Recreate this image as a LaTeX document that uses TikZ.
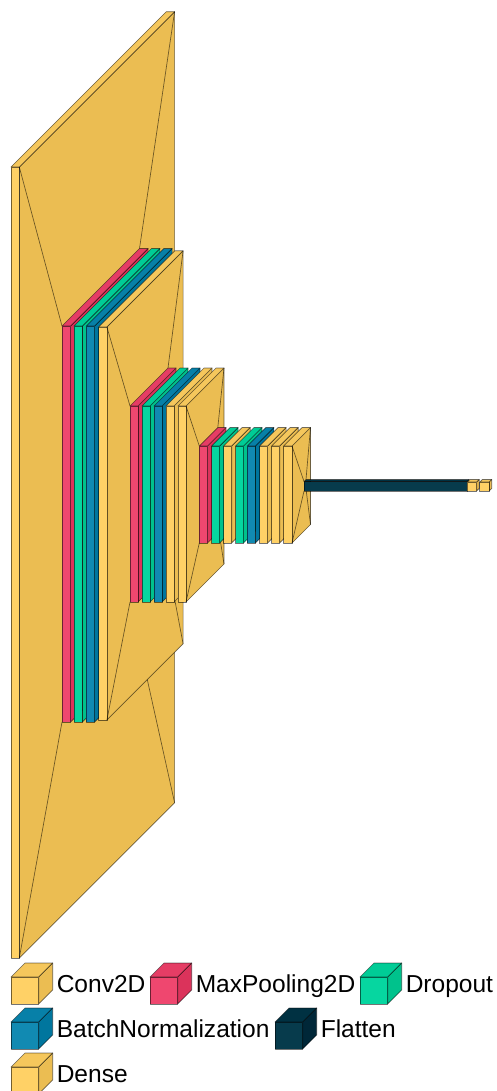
\documentclass[tikz,border=0pt]{standalone}
\usepackage{fontspec}
\setmainfont{Liberation Sans}
\definecolor{convF}{HTML}{FFD166}\definecolor{convT}{HTML}{F5C75C}\definecolor{convS}{HTML}{EBBD52}
\definecolor{poolF}{HTML}{EF476F}\definecolor{poolT}{HTML}{E53D65}\definecolor{poolS}{HTML}{DB335B}
\definecolor{dropF}{HTML}{06D6A0}\definecolor{dropT}{HTML}{00CC96}\definecolor{dropS}{HTML}{00C28C}
\definecolor{normF}{HTML}{118AB2}\definecolor{normT}{HTML}{0780A8}\definecolor{normS}{HTML}{00769E}
\definecolor{flatF}{HTML}{073B4C}\definecolor{flatT}{HTML}{003142}\definecolor{flatS}{HTML}{002738}
\tikzset{
  edge/.style={draw=black,draw opacity=.55,line width=.5pt,line join=round},
  funnel/.style={edge},
  legendtext/.style={anchor=base west,inner sep=0pt,font=\fontsize{18.4pt}{22pt}\selectfont,text=black}
}
% name, x, y-top, width, height, depth
\newcommand{\placecube}[6]{%
  \coordinate (#1-ftl) at (#2,#3);
  \coordinate (#1-ftr) at ({#2+#4},#3);
  \coordinate (#1-fbl) at (#2,{#3+#5});
  \coordinate (#1-fbr) at ({#2+#4},{#3+#5});
  \coordinate (#1-btl) at ({#2+#6},{#3-#6});
  \coordinate (#1-btr) at ({#2+#4+#6},{#3-#6});
  \coordinate (#1-bbr) at ({#2+#4+#6},{#3+#5-#6});
  \coordinate (#1-bbl) at ({#2+#6},{#3+#5-#6});
}
% name, colour stem
\newcommand{\drawcube}[2]{%
  \path[edge,fill=#2S] (#1-ftr) -- (#1-btr) -- (#1-bbr) -- (#1-fbr) -- cycle;
  \path[edge,fill=#2T] (#1-ftl) -- (#1-btl) -- (#1-btr) -- (#1-ftr) -- cycle;
  \path[edge,fill=#2F] (#1-ftl) -- (#1-ftr) -- (#1-fbr) -- (#1-fbl) -- cycle;
}
\newcommand{\linkcubes}[2]{%
  \draw[funnel] (#1-ftr) -- (#2-ftl);
  \draw[funnel] (#1-btr) -- (#2-btl);
  \draw[funnel] (#1-fbr) -- (#2-fbl);
  \draw[funnel] (#1-bbr) -- (#2-bbl);
}
\begin{document}
\begin{tikzpicture}[x=.75pt,y=-.75pt]
\useasboundingbox (0,0) rectangle (496,1091);
\clip (0,0) rectangle (496,1091);
\placecube{a}{11}{167}{8.3}{791}{155.3}
\placecube{b1}{62}{326}{8.6}{396}{77.5}
\placecube{b2}{74}{326}{8.4}{396}{77.5}
\placecube{b3}{86.3}{326}{8.3}{396}{77.5}
\placecube{b4}{98.7}{327}{8.2}{393}{76.2}
\placecube{c1}{130}{406}{8}{196}{38}
\placecube{c2}{142}{406}{8}{196}{38}
\placecube{c3}{154}{406}{8}{196}{38}
\placecube{c4}{166}{406}{8}{196}{38}
\placecube{c5}{178}{406}{8}{196}{38}
\placecube{d1}{199.3}{446}{8.2}{97}{18.5}
\placecube{d2}{211.6}{446}{8}{97}{18.5}
\placecube{d3}{223.7}{446}{8}{97}{18.5}
\placecube{d4}{235.5}{446}{8}{97}{18.5}
\placecube{d5}{247.4}{446}{8}{97}{18.5}
\placecube{d6}{259.6}{446}{8}{97}{18.5}
\placecube{d7}{271.7}{446}{8}{97}{18.5}
\placecube{d8}{283.7}{446}{8.3}{97}{18.5}
\placecube{e}{304}{481.5}{163}{9.5}{2}
\placecube{f1}{467.3}{482}{9.4}{9}{2.5}
\placecube{f2}{479.8}{482}{9.4}{9}{2.5}
\drawcube{a}{conv}
\linkcubes{a}{b1}
\drawcube{b1}{pool}
\drawcube{b2}{drop}
\drawcube{b3}{norm}
\drawcube{b4}{conv}
\linkcubes{b4}{c1}
\drawcube{c1}{pool}
\drawcube{c2}{drop}
\drawcube{c3}{norm}
\drawcube{c4}{conv}
\drawcube{c5}{conv}
\linkcubes{c5}{d1}
\drawcube{d1}{pool}
\drawcube{d2}{drop}
\drawcube{d3}{conv}
\drawcube{d4}{drop}
\drawcube{d5}{norm}
\drawcube{d6}{conv}
\drawcube{d7}{conv}
\drawcube{d8}{conv}
\linkcubes{d8}{e}
\drawcube{e}{flat}
\drawcube{f1}{conv}
\drawcube{f2}{conv}
% legend
\placecube{l1}{11}{977}{27.7}{27}{14}\drawcube{l1}{conv}
\node[legendtext] (t1) at (56.5,992.3) {Conv2D};
\placecube{l2}{150}{977}{27.7}{27}{14}\drawcube{l2}{pool}
\node[legendtext] (t2) at (195.5,992.3) {MaxPooling2D};
\placecube{l3}{360}{977}{27.7}{27}{14}\drawcube{l3}{drop}
\node[legendtext] (t3) at (405.5,992.3) {Dropout};
\placecube{l4}{11}{1022}{27.7}{27}{14}\drawcube{l4}{norm}
\node[legendtext] (t4) at (56.5,1037.6) {BatchNormalization};
\placecube{l5}{275}{1022}{27.7}{27}{14}\drawcube{l5}{flat}
\node[legendtext] (t5) at (320.5,1037.6) {Flatten};
\placecube{l6}{11}{1067}{27.7}{27}{14}\drawcube{l6}{conv}
\node[legendtext] (t6) at (56.5,1082.6) {Dense};
\end{tikzpicture}
\end{document}
